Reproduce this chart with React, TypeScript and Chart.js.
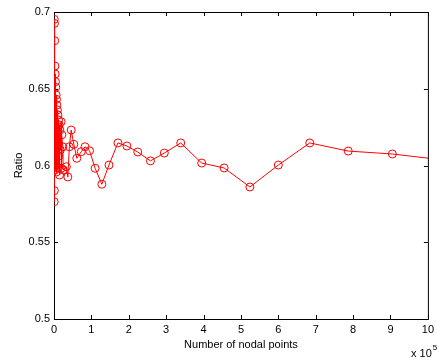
import React, { useEffect, useRef } from "react";
import { Chart, registerables } from "chart.js";

Chart.register(...registerables);

// Number of nodal points (raw counts) and the matching ratio
const nodalPoints = [
  400, 700, 1000, 1300, 1600, 1900, 2200, 2500, 2800, 3100,
  3500, 3900, 4300, 4700, 5200, 5700, 6200, 6700, 7300, 7800,
  8500, 9100, 9800, 10400, 11200, 12000, 13000, 13800, 14800, 15700,
  16800, 19000, 19500, 21000, 23500, 24500, 33000, 37000, 41000, 46000,
  53000, 61000, 73000, 83000, 95000, 110000, 128000, 147000, 171000, 195000,
  224000, 258000, 295000, 339000, 395000, 455000, 524000, 600000, 684000, 787000,
  905000, 1045000,
];
const ratios = [
  0.5764, 0.6952, 0.5836, 0.6926, 0.6003, 0.6813, 0.6036, 0.6648, 0.5971, 0.6596,
  0.6068, 0.6546, 0.6023, 0.651, 0.6101, 0.6459, 0.5958, 0.6431, 0.6166, 0.6394,
  0.5984, 0.6362, 0.6134, 0.6329, 0.5984, 0.6296, 0.6062, 0.6264, 0.5938, 0.6231,
  0.6101, 0.6285, 0.5982, 0.62, 0.6122, 0.5971, 0.5992, 0.5925, 0.6122, 0.6231,
  0.6138, 0.6047, 0.609, 0.6122, 0.6096, 0.5982, 0.5878, 0.6003, 0.6147, 0.6127,
  0.6088, 0.603, 0.6081, 0.6147, 0.6016, 0.5984, 0.586, 0.6003, 0.6147, 0.6094,
  0.6075, 0.6035,
];
const xTickValues = [0, 1, 2, 3, 4, 5, 6, 7, 8, 9, 10]; // in units of 10^5
const yTickValues = [0.5, 0.55, 0.6, 0.65, 0.7];
const xAxisTitle = "Number of nodal points";
const yAxisTitle = "Ratio";
const xExponentBase = "x 10";
const xExponent = "5";

const FONT = '"Liberation Sans", Arial, Helvetica, sans-serif';
const RED = "rgb(255,0,0)";

const framePlugin = {
  id: "matlabFrame",
  beforeDatasetsDraw(chart: any) {
    const { ctx, chartArea, scales } = chart;
    const { left, right, top, bottom } = chartArea;
    const xs = scales.x;
    const ys = scales.y;
    ctx.save();
    ctx.strokeStyle = "#000";
    ctx.lineWidth = 1;
    ctx.strokeRect(left + 0.5, top + 0.5, right - left, bottom - top);
    const tl = 4;
    ctx.beginPath();
    xTickValues.forEach((v) => {
      const px = Math.round(xs.getPixelForValue(v * 1e5)) + 0.5;
      ctx.moveTo(px, bottom);
      ctx.lineTo(px, bottom - tl);
      ctx.moveTo(px, top);
      ctx.lineTo(px, top + tl);
    });
    yTickValues.forEach((v) => {
      const py = Math.round(ys.getPixelForValue(v)) + 0.5;
      ctx.moveTo(left, py);
      ctx.lineTo(left + tl, py);
      ctx.moveTo(right, py);
      ctx.lineTo(right - tl, py);
    });
    ctx.stroke();
    ctx.restore();
  },
  afterDraw(chart: any) {
    const { ctx } = chart;
    ctx.save();
    ctx.fillStyle = "#000";
    ctx.textBaseline = "alphabetic";
    ctx.textAlign = "left";
    ctx.font = `11px ${FONT}`;
    const bx = 411;
    ctx.fillText(xExponentBase, bx, 357);
    const w = ctx.measureText(xExponentBase).width;
    ctx.font = `8px ${FONT}`;
    ctx.fillText(xExponent, bx + w + 1, 350);
    ctx.restore();
  },
};

export default function App() {
  const canvasRef = useRef<HTMLCanvasElement | null>(null);

  useEffect(() => {
    document.body.style.margin = "0";
    const canvas = canvasRef.current;
    if (!canvas) return;
    const chart = new Chart(canvas, {
      type: "line",
      data: {
        datasets: [
          {
            data: nodalPoints.map((n, i) => ({ x: n, y: ratios[i] })),
            borderColor: RED,
            borderWidth: 1,
            pointRadius: 4,
            pointBorderWidth: 1,
            pointBorderColor: RED,
            pointBackgroundColor: "rgba(0,0,0,0)",
            tension: 0,
            fill: false,
          },
        ],
      },
      options: {
        animation: false,
        responsive: false,
        maintainAspectRatio: false,
        devicePixelRatio: 1,
        layout: { padding: { top: 12, right: 4, left: 0, bottom: 0 } },
        plugins: {
          legend: { display: false },
          tooltip: { enabled: false },
        },
        scales: {
          x: {
            type: "linear",
            min: 0,
            max: 1e6,
            afterBuildTicks: (s: any) => {
              s.ticks = xTickValues.map((v) => ({ value: v * 1e5 }));
            },
            afterFit: (s: any) => {
              s.height = 43;
            },
            grid: { display: false, drawTicks: false, tickLength: 0 },
            border: { display: false },
            ticks: {
              padding: 4,
              color: "#000",
              maxRotation: 0,
              autoSkip: false,
              font: { family: FONT, size: 11 },
              callback: (v: any) => String(Math.round(Number(v) / 1e5)),
            },
            title: {
              display: true,
              text: xAxisTitle,
              color: "#000",
              font: { family: FONT, size: 11 },
              padding: { top: 0, bottom: 10 },
            },
          },
          y: {
            type: "linear",
            min: 0.5,
            max: 0.7,
            afterBuildTicks: (s: any) => {
              s.ticks = yTickValues.map((v) => ({ value: v }));
            },
            afterFit: (s: any) => {
              s.width = 54;
            },
            grid: { display: false, drawTicks: false, tickLength: 0 },
            border: { display: false },
            ticks: {
              padding: 4,
              color: "#000",
              autoSkip: false,
              font: { family: FONT, size: 11 },
              callback: (v: any) => String(Number(Number(v).toFixed(2))),
            },
            title: {
              display: true,
              text: yAxisTitle,
              color: "#000",
              font: { family: FONT, size: 11 },
              padding: { top: 12, bottom: 0 },
            },
          },
        },
      },
      plugins: [framePlugin],
    });
    return () => chart.destroy();
  }, []);

  return (
    <div style={{ width: 438, height: 362, background: "#fff" }}>
      <canvas ref={canvasRef} width={438} height={362} style={{ display: "block" }} />
    </div>
  );
}
